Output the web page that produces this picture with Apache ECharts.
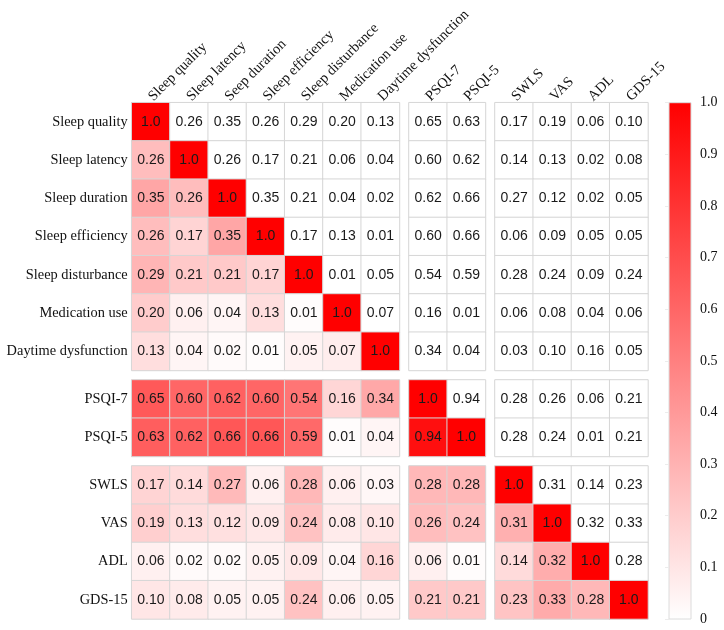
<!DOCTYPE html>
<html>
<head>
<meta charset="utf-8">
<script src="https://cdn.jsdelivr.net/npm/echarts@6/dist/echarts.min.js"></script>
<style>html,body{margin:0;padding:0;background:#fff;}#c{width:724px;height:630px;}</style>
</head>
<body>
<div id="c"></div>
<script>
const rowLabels = ['Sleep quality','Sleep latency','Sleep duration','Sleep efficiency','Sleep disturbance','Medication use','Daytime dysfunction','PSQI-7','PSQI-5','SWLS','VAS','ADL','GDS-15'];
const colLabels = ['Sleep quality','Sleep latency','Seep duration','Sleep efficiency','Sleep disturbance','Medication use','Daytime dysfunction','PSQI-7','PSQI-5','SWLS','VAS','ADL','GDS-15'];
const groupSizes = [7, 2, 4];

const sleepQuality       = [1.0, 0.26, 0.35, 0.26, 0.29, 0.20, 0.13, 0.65, 0.63, 0.17, 0.19, 0.06, 0.10];
const sleepLatency       = [0.26, 1.0, 0.26, 0.17, 0.21, 0.06, 0.04, 0.60, 0.62, 0.14, 0.13, 0.02, 0.08];
const sleepDuration      = [0.35, 0.26, 1.0, 0.35, 0.21, 0.04, 0.02, 0.62, 0.66, 0.27, 0.12, 0.02, 0.05];
const sleepEfficiency    = [0.26, 0.17, 0.35, 1.0, 0.17, 0.13, 0.01, 0.60, 0.66, 0.06, 0.09, 0.05, 0.05];
const sleepDisturbance   = [0.29, 0.21, 0.21, 0.17, 1.0, 0.01, 0.05, 0.54, 0.59, 0.28, 0.24, 0.09, 0.24];
const medicationUse      = [0.20, 0.06, 0.04, 0.13, 0.01, 1.0, 0.07, 0.16, 0.01, 0.06, 0.08, 0.04, 0.06];
const daytimeDysfunction = [0.13, 0.04, 0.02, 0.01, 0.05, 0.07, 1.0, 0.34, 0.04, 0.03, 0.10, 0.16, 0.05];
const psqi7              = [0.65, 0.60, 0.62, 0.60, 0.54, 0.16, 0.34, 1.0, 0.94, 0.28, 0.26, 0.06, 0.21];
const psqi5              = [0.63, 0.62, 0.66, 0.66, 0.59, 0.01, 0.04, 0.94, 1.0, 0.28, 0.24, 0.01, 0.21];
const swls               = [0.17, 0.14, 0.27, 0.06, 0.28, 0.06, 0.03, 0.28, 0.28, 1.0, 0.31, 0.14, 0.23];
const vas                = [0.19, 0.13, 0.12, 0.09, 0.24, 0.08, 0.10, 0.26, 0.24, 0.31, 1.0, 0.32, 0.33];
const adl                = [0.06, 0.02, 0.02, 0.05, 0.09, 0.04, 0.16, 0.06, 0.01, 0.14, 0.32, 1.0, 0.28];
const gds15              = [0.10, 0.08, 0.05, 0.05, 0.24, 0.06, 0.05, 0.21, 0.21, 0.23, 0.33, 0.28, 1.0];
const matrix = [sleepQuality, sleepLatency, sleepDuration, sleepEfficiency, sleepDisturbance, medicationUse, daytimeDysfunction, psqi7, psqi5, swls, vas, adl, gds15];

const colorbarTicks = [0, 0.1, 0.2, 0.3, 0.4, 0.5, 0.6, 0.7, 0.8, 0.9, 1.0];

// layout
const CELL = 38.25, GAP = 9.5, X0 = 131.7, Y0 = 102.7;
const starts = [];
{ let s = 0; groupSizes.forEach(n => { starts.push(s); s += n; }); }
const blockPos = (origin) => { const p = []; let cur = origin; groupSizes.forEach(n => { p.push(cur); cur += n * CELL + GAP; }); return p; };
const xPos = blockPos(X0), yPos = blockPos(Y0);

const grids = [], xAxes = [], yAxes = [], series = [];
let gi = 0;
for (let r = 0; r < 3; r++) {
  for (let c = 0; c < 3; c++) {
    grids.push({ left: xPos[c], top: yPos[r], width: groupSizes[c] * CELL, height: groupSizes[r] * CELL, containLabel: false });
    xAxes.push({
      type: 'category', gridIndex: gi, position: 'top',
      data: colLabels.slice(starts[c], starts[c] + groupSizes[c]),
      axisLine: { show: false }, axisTick: { show: false }, splitLine: { show: false },
      axisLabel: { show: r === 0, rotate: -45, interval: 0, margin: 4, fontFamily: 'Liberation Serif', fontSize: 14.5, color: '#111' }
    });
    yAxes.push({
      type: 'category', gridIndex: gi, inverse: true,
      data: rowLabels.slice(starts[r], starts[r] + groupSizes[r]),
      axisLine: { show: false }, axisTick: { show: false }, splitLine: { show: false },
      axisLabel: { show: c === 0, interval: 0, margin: 4, fontFamily: 'Liberation Serif', fontSize: 14.4, color: '#111' }
    });
    const data = [];
    for (let i = 0; i < groupSizes[r]; i++) {
      for (let j = 0; j < groupSizes[c]; j++) {
        const gr = starts[r] + i, gc = starts[c] + j;
        const v = matrix[gr][gc];
        data.push([j, i, v, gc <= gr ? v : 0]);
      }
    }
    series.push({
      type: 'heatmap', xAxisIndex: gi, yAxisIndex: gi, data: data,
      itemStyle: { borderColor: '#d6d6d6', borderWidth: 1 },
      label: { show: true, fontFamily: 'Liberation Sans', fontSize: 14, color: '#1a1a1a',
        formatter: p => p.value[2] === 1 ? '1.0' : p.value[2].toFixed(2) },
      emphasis: { disabled: true }
    });
    gi++;
  }
}

// colour bar grid
const cbIndex = gi;
grids.push({ left: 669, top: Y0, width: 22, height: 516.3, show: true, borderColor: '#dcdcdc', borderWidth: 1,
  backgroundColor: { type: 'linear', x: 0, y: 0, x2: 0, y2: 1, colorStops: [{ offset: 0, color: '#ff0000' }, { offset: 1, color: '#ffffff' }] } });
xAxes.push({ type: 'value', gridIndex: cbIndex, show: false, min: 0, max: 1 });
yAxes.push({ type: 'value', gridIndex: cbIndex, position: 'right', min: 0, max: 1, interval: 0.1,
  axisLine: { show: false }, splitLine: { show: false },
  axisTick: { show: true, inside: true, length: 4, lineStyle: { color: '#ececec' } },
  axisLabel: { margin: 9, fontFamily: 'Liberation Serif', fontSize: 14, color: '#111',
    formatter: v => { const t = colorbarTicks.find(k => Math.abs(k - v) < 1e-6); const x = t === undefined ? v : t; return x === 0 ? '0' : x.toFixed(1); } }
});

const chart = echarts.init(document.getElementById('c'), null, { renderer: 'canvas' });
chart.setOption({
  animation: false,
  grid: grids, xAxis: xAxes, yAxis: yAxes, series: series,
  visualMap: { show: false, type: 'continuous', min: 0, max: 1, dimension: 3, seriesIndex: series.map((s, i) => i),
    inRange: { color: ['#ffffff', '#ff0000'] } }
});
</script>
</body>
</html>
